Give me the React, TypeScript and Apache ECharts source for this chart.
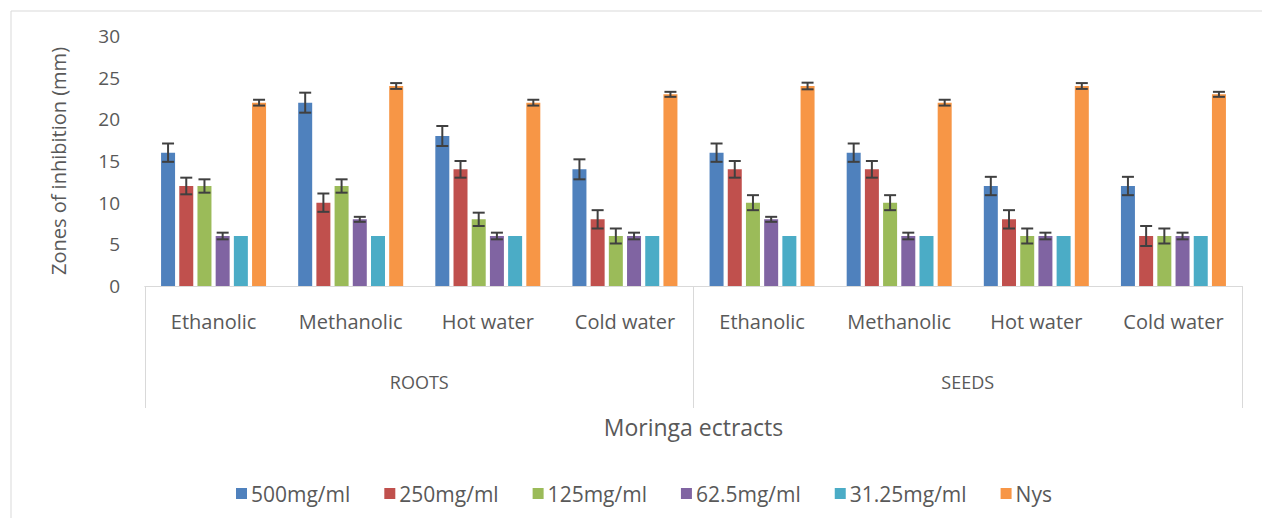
import React, { useEffect, useRef } from "react";
import * as echarts from "echarts";

const categories = ["Ethanolic", "Methanolic", "Hot water", "Cold water", "Ethanolic", "Methanolic", "Hot water", "Cold water"];
const groups = ["ROOTS", "SEEDS"];
const seriesNames = ["500mg/ml", "250mg/ml", "125mg/ml", "62.5mg/ml", "31.25mg/ml", "Nys"];
const colors = ["#4F81BD", "#C0504D", "#9BBB59", "#8064A2", "#4BACC6", "#F79646"];

const v500 = [16, 22, 18, 14, 16, 16, 12, 12];
const v250 = [12, 10, 14, 8, 14, 14, 8, 6];
const v125 = [12, 12, 8, 6, 10, 10, 6, 6];
const v62 = [6, 8, 6, 6, 8, 6, 6, 6];
const v31 = [6, 6, 6, 6, 6, 6, 6, 6];
const vNys = [22, 24, 22, 23, 24, 22, 24, 23];

const e500 = [1.1, 1.2, 1.2, 1.2, 1.1, 1.1, 1.1, 1.1];
const e250 = [1, 1.1, 1, 1.1, 1, 1, 1.1, 1.2];
const e125 = [0.8, 0.8, 0.8, 0.9, 0.9, 0.9, 0.9, 0.9];
const e62 = [0.4, 0.3, 0.4, 0.4, 0.3, 0.4, 0.4, 0.4];
const e31 = [0, 0, 0, 0, 0, 0, 0, 0];
const eNys = [0.35, 0.35, 0.35, 0.3, 0.4, 0.35, 0.35, 0.3];

const yTicks = { min: 0, max: 30, interval: 5 };

const values = [v500, v250, v125, v62, v31, vNys];
const errors = [e500, e250, e125, e62, e31, eNys];

const FONT = "Open Sans";
const TEXT = "#595959";
const BAR_W = 14;
const BAR_GAP_RATIO = 0.3;

export default function App() {
  const ref = useRef<HTMLDivElement>(null);
  useEffect(() => {
    if (!ref.current) return;
    const chart = echarts.init(ref.current, null, { renderer: "svg" });
    const step = BAR_W * (1 + BAR_GAP_RATIO);
    const n = values.length;
    const barSeries = values.map((arr, i) => ({
      name: seriesNames[i],
      type: "bar",
      xAxisIndex: 0,
      barWidth: BAR_W,
      barGap: `${BAR_GAP_RATIO * 100}%`,
      itemStyle: { color: colors[i] },
      data: arr,
    }));
    const errSeries = values.map((arr, i) => ({
      name: `err${i}`,
      type: "custom",
      xAxisIndex: 0,
      z: 5,
      data: arr.map((v, k) => [k, v - errors[i][k], v + errors[i][k], errors[i][k]]),
      encode: { x: 0, y: [1, 2] },
      renderItem: (params: any, api: any) => {
        if (api.value(3) <= 0) return null;
        const lo = api.coord([api.value(0), api.value(1)]);
        const hi = api.coord([api.value(0), api.value(2)]);
        const x = lo[0] + (i - (n - 1) / 2) * step;
        const cap = 6;
        const style = { stroke: "#404040", lineWidth: 2 };
        return {
          type: "group",
          children: [
            { type: "line", shape: { x1: x, y1: lo[1], x2: x, y2: hi[1] }, style },
            { type: "line", shape: { x1: x - cap, y1: hi[1], x2: x + cap, y2: hi[1] }, style },
            { type: "line", shape: { x1: x - cap, y1: lo[1], x2: x + cap, y2: lo[1] }, style },
          ],
        };
      },
    }));
    chart.setOption({
      animation: false,
      textStyle: { fontFamily: FONT },
      grid: { left: 145, right: 20, top: 36, bottom: 232, containLabel: false },
      legend: {
        data: seriesNames,
        left: 231,
        top: 478,
        icon: "rect",
        itemWidth: 11,
        itemHeight: 11,
        itemGap: 34,
        textStyle: { fontFamily: FONT, fontSize: 21, color: TEXT, padding: [0, 0, 0, -1] },
      },
      xAxis: [
        {
          type: "category",
          data: categories,
          position: "bottom",
          axisLine: { show: true, lineStyle: { color: "#d9d9d9", width: 1 } },
          axisTick: { show: false },
          axisLabel: { margin: 25, fontSize: 20, color: TEXT, fontFamily: FONT, interval: 0 },
        },
        {
          type: "category",
          data: groups,
          position: "bottom",
          axisLine: { show: true, lineStyle: { color: "#d9d9d9", width: 1 } },
          axisTick: { show: true, length: 122, interval: 0, lineStyle: { color: "#d9d9d9", width: 1 } },
          axisLabel: { margin: 87, fontSize: 18, color: TEXT, fontFamily: FONT, interval: 0 },
          name: "Moringa ectracts",
          nameLocation: "middle",
          nameGap: 129,
          nameTextStyle: { fontSize: 23, color: TEXT, fontFamily: FONT },
        },
      ],
      yAxis: {
        type: "value",
        min: yTicks.min,
        max: yTicks.max,
        interval: yTicks.interval,
        axisLine: { show: false },
        axisTick: { show: false },
        splitLine: { show: false },
        axisLabel: { margin: 25, fontSize: 19, color: TEXT, fontFamily: FONT },
        name: "Zones of inhibition (mm)",
        nameLocation: "middle",
        nameGap: 77,
        nameTextStyle: { fontSize: 20, color: TEXT, fontFamily: FONT },
      },
      graphic: [
        { type: "line", shape: { x1: 11, y1: 11, x2: 1262, y2: 11 }, style: { stroke: "#d9d9d9", lineWidth: 1 } },
        { type: "line", shape: { x1: 11, y1: 11, x2: 11, y2: 518 }, style: { stroke: "#d9d9d9", lineWidth: 1 } },
      ],
      series: [...barSeries, ...errSeries],
    });
    return () => chart.dispose();
  }, []);
  return <div ref={ref} style={{ position: "fixed", left: 0, top: 0, width: 1262, height: 518, background: "#fff" }} />;
}
